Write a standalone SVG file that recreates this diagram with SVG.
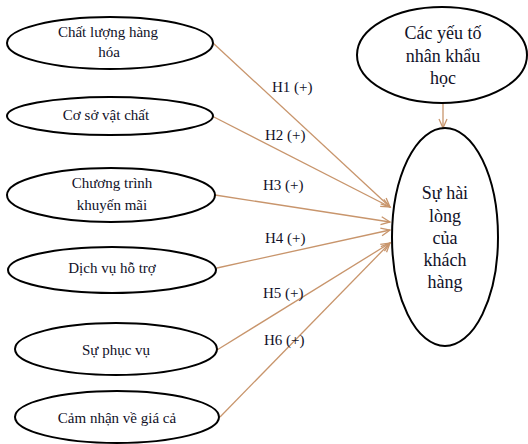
<svg xmlns="http://www.w3.org/2000/svg" width="528" height="444" viewBox="0 0 528 444">
<style>
.n{fill:#fff;stroke:#000;stroke-width:2}
.t{font-family:"Liberation Serif","Times New Roman",serif;font-size:15px;fill:#111128;text-anchor:middle}
.b{font-size:18px}
.l{font-family:"Liberation Serif","Times New Roman",serif;font-size:15px;fill:#111128}
.c{stroke:#c8956c;stroke-width:1.3;fill:none;marker-end:url(#ah)}
</style>
<defs>
<marker id="ah" markerWidth="12" markerHeight="12" refX="10" refY="5" orient="auto" markerUnits="userSpaceOnUse">
<polyline points="1,1 10,5 1,9" fill="none" stroke="#c8956c" stroke-width="1.3"/>
</marker>
</defs>
<rect width="528" height="444" fill="#fff"/>
<g id="connectors">
<line class="c" x1="213" y1="43" x2="390" y2="207"/>
<line class="c" x1="212" y1="116" x2="390" y2="207"/>
<line class="c" x1="215" y1="195" x2="390" y2="222"/>
<line class="c" x1="217" y1="268" x2="390" y2="230"/>
<line class="c" x1="217" y1="350" x2="390" y2="243"/>
<line class="c" x1="220" y1="417" x2="390" y2="243"/>
<line class="c" x1="443" y1="102" x2="443" y2="128"/>
<text class="l" x="272" y="92">H1 (+)</text>
<text class="l" x="265" y="140">H2 (+)</text>
<text class="l" x="263" y="190">H3 (+)</text>
<text class="l" x="265" y="243">H4 (+)</text>
<text class="l" x="263" y="298">H5 (+)</text>
<text class="l" x="264" y="345">H6 (+)</text>
</g>
<g id="n1"><ellipse class="n" cx="110" cy="43" rx="103" ry="26"/><text class="t" x="108" y="37">Chất lượng hàng</text><text class="t" x="109" y="57">hóa</text></g>
<g id="n2"><ellipse class="n" cx="110" cy="116" rx="103" ry="19"/><text class="t" x="106" y="120">Cơ sở vật chất</text></g>
<g id="n3"><ellipse class="n" cx="111" cy="195" rx="104" ry="27"/><text class="t" x="112" y="188">Chương trình</text><text class="t" x="112" y="210">khuyến mãi</text></g>
<g id="n4"><ellipse class="n" cx="112" cy="270" rx="104" ry="23"/><text class="t" x="112" y="273">Dịch vụ hỗ trợ</text></g>
<g id="n5"><ellipse class="n" cx="116" cy="349" rx="101" ry="26"/><text class="t" x="116" y="355">Sự phục vụ</text></g>
<g id="n6"><ellipse class="n" cx="117" cy="417" rx="102" ry="26"/><text class="t" x="117" y="423">Cảm nhận về giá cả</text></g>
<g id="demo"><ellipse class="n" cx="442" cy="55" rx="85" ry="48"/><text class="t b" x="443" y="39">Các yếu tố</text><text class="t b" x="443" y="62">nhân khẩu</text><text class="t b" x="443" y="84">học</text></g>
<g id="main"><ellipse class="n" cx="445" cy="237" rx="53" ry="109"/><text class="t b" x="445" y="199">Sự hài</text><text class="t b" x="445" y="222">lòng</text><text class="t b" x="445" y="244">của</text><text class="t b" x="445" y="266">khách</text><text class="t b" x="445" y="288">hàng</text></g>
</svg>
